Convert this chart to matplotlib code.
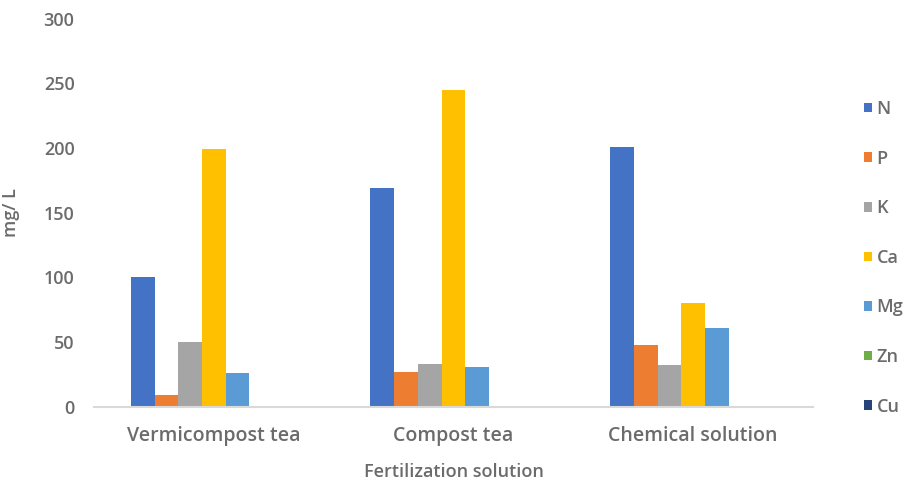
import matplotlib
matplotlib.use("Agg")
import matplotlib.pyplot as plt
import numpy as np

plt.rcParams['font.family'] = ['Open Sans', 'DejaVu Sans']
plt.rcParams['font.weight'] = 'semibold'
plt.rcParams['axes.labelweight'] = 'semibold'

categories = ["Vermicompost tea", "Compost tea", "Chemical solution"]
nutrients = ["N", "P", "K", "Ca", "Mg", "Zn", "Cu"]
N = [100, 169, 201]
P = [9, 27, 48]
K = [50, 33, 32]
Ca = [199, 245, 80]
Mg = [26, 31, 61]
Zn = [0, 0, 0]
Cu = [0, 0, 0]
series = [N, P, K, Ca, Mg, Zn, Cu]
colors = ["#4472C4", "#ED7D31", "#A5A5A5", "#FFC000", "#5B9BD5", "#70AD47", "#264478"]
yticks = [0, 50, 100, 150, 200, 250, 300]

text_color = "#6b6b6b"
fs = 13
fig = plt.figure(figsize=(9.16, 4.88), dpi=100)
ax = fig.add_axes([94 / 916, (488 - 406.7) / 488, (813 - 94) / 916, (406.7 - 18.8) / 488])

x = np.arange(len(categories))
w = 0.099
for i, (vals, name, c) in enumerate(zip(series, nutrients, colors)):
    ax.bar(x + (i - 3) * w, vals, width=w, color=c, label=name, linewidth=0)

ax.set_xlim(-0.5, 2.5)
ax.set_ylim(0, 300)
ax.set_yticks(yticks)
ax.set_xticks(x)
ax.set_xticklabels(categories)
for s in ["top", "right", "left"]:
    ax.spines[s].set_visible(False)
ax.spines["bottom"].set_color("#D9D9D9")
ax.spines["bottom"].set_linewidth(1.5)
ax.tick_params(axis="both", length=0, colors=text_color, labelsize=fs)
ax.tick_params(axis="x", labelsize=14, pad=14)
ax.tick_params(axis="y", pad=14)
ax.set_ylabel("mg/ L", color=text_color, fontsize=fs)
ax.yaxis.set_label_coords((20 - 94) / (813 - 94), 0.5)
ax.set_xlabel("Fertilization solution", color=text_color, fontsize=fs, labelpad=12)

leg = fig.legend(loc="upper left", bbox_to_anchor=(864 / 916, 1 - 100 / 488),
                 frameon=False, fontsize=fs, labelspacing=1.75,
                 handlelength=0.45, handleheight=0.45, handletextpad=0.25,
                 borderaxespad=0, borderpad=0)
for t in leg.get_texts():
    t.set_color(text_color)

fig.savefig("out.png", dpi=100)
